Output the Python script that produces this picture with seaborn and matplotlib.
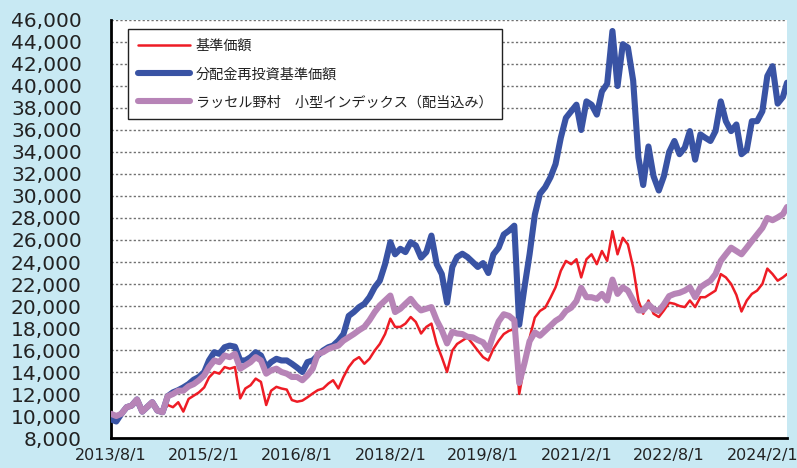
import numpy as np
import pandas as pd
import matplotlib
matplotlib.use("Agg")
import matplotlib.pyplot as plt
import seaborn as sns

# ---- data (monthly readings, 2013/8 .. 2024/6 + final point) ----
dates = list(pd.date_range("2013-08-01", periods=131, freq="MS")) + [pd.Timestamp("2024-06-25")]

nav_reinvest = [
    9700, 9500, 10200, 10800, 10950, 11500, 10400, 10800, 11250, 10500, 10350, 11800,
    12150, 12350, 12600, 12900, 13300, 13550, 14000, 15050, 15800, 15650, 16250, 16400,
    16300, 15050, 15050, 15350, 15800, 15500, 14450, 14900, 15200, 15050, 15050, 14750,
    14400, 14000, 14900, 15050, 15500, 15950, 16250, 16400, 16850, 17450, 19100, 19450,
    19900, 20200, 20800, 21700, 22300, 23800, 25800, 24700, 25200, 24900, 25800, 25500,
    24400, 24900, 26400, 23800, 22900, 20300, 23550, 24450, 24750, 24450, 24000, 23550,
    23900, 23000, 24700, 25300, 26500, 26850, 27300, 18300, 21700, 24700, 28300, 30200,
    30800, 31700, 32900, 35300, 37100, 37700, 38300, 36000, 38600, 38300, 37400, 39500,
    40200, 45000, 40000, 43800, 43500, 40500, 33500, 31000, 34500, 31800, 30500, 31800,
    34000, 35000, 33800, 34400, 35900, 33300, 35600, 35300, 35000, 35900, 38600, 36800,
    35900, 36500, 33800, 34200, 36800, 36800, 37700, 40900, 41800, 38400, 39000,
    40300,
]

index_total = [
    10200, 10000, 10200, 10800, 10950, 11500, 10400, 10800, 11250, 10500, 10350, 11800,
    12000, 12300, 12300, 12700, 12900, 13250, 13700, 14450, 15050, 14900, 15500, 15350,
    15650, 14300, 14600, 14900, 15350, 15050, 13850, 14150, 14300, 14000, 13850, 13550,
    13550, 13250, 13700, 14300, 15650, 15800, 16100, 16250, 16400, 16850, 17150, 17450,
    17800, 18100, 18700, 19450, 20050, 20500, 20950, 19450, 19750, 20200, 20650, 20050,
    19600, 19750, 19900, 18700, 17800, 16600, 17650, 17500, 17450, 17200, 17150, 16900,
    16700, 16000, 17400, 18600, 19250, 19100, 18700, 13000, 14800, 16800, 17600, 17300,
    17750, 18200, 18650, 18950, 19550, 19850, 20450, 21650, 20800, 20800, 20650, 21100,
    20500, 22400, 21100, 21700, 21400, 20500, 19600, 19600, 20150, 19700, 19550, 20150,
    20900, 21100, 21200, 21400, 21700, 20800, 21700, 22000, 22300, 22900, 24100, 24700,
    25300, 25000, 24700, 25300, 25900, 26500, 27100, 28000, 27800, 28050, 28350,
    29000,
]

nav = [
    9700, 9500, 10200, 10800, 10950, 11500, 10400, 10800, 11250, 10500, 10350, 11000,
    10800, 11250, 10400, 11550, 11850, 12150, 12600, 13500, 14000, 13850, 14450, 14300,
    14450, 11600, 12500, 12800, 13400, 13100, 11000, 12300, 12650, 12500, 12400, 11450,
    11300, 11400, 11700, 12050, 12350, 12500, 12950, 13250, 12500, 13550, 14450, 15050,
    15350, 14750, 15200, 15950, 16550, 17450, 18850, 18100, 18100, 18400, 19000, 18550,
    17500, 18100, 18400, 16550, 15350, 14000, 15950, 16550, 16850, 17150, 16550, 15950,
    15350, 15050, 16100, 16850, 17450, 17750, 17900, 12000, 14600, 17100, 18950, 19550,
    19850, 20750, 21700, 23200, 24100, 23800, 24250, 22600, 24250, 24700, 23800, 25000,
    24100, 26800, 24700, 26200, 25600, 23500, 20500, 19300, 20500, 19300, 19000, 19600,
    20300, 20200, 20000, 19900, 20500, 19900, 20800, 20800, 21100, 21400, 22900, 22600,
    22000, 21000, 19500, 20500, 21100, 21400, 22000, 23400, 22900, 22300, 22600,
    22900,
]

labels = ["基準価額", "分配金再投資基準価額", "ラッセル野村　小型インデックス（配当込み）"]
tick_dates = ["2013-08-01", "2015-02-01", "2016-08-01", "2018-02-01",
              "2019-08-01", "2021-02-01", "2022-08-01", "2024-02-01"]
tick_labels = ["2013/8/1", "2015/2/1", "2016/8/1", "2018/2/1",
               "2019/8/1", "2021/2/1", "2022/8/1", "2024/2/1"]
y_ticks = list(range(8000, 46001, 2000))

# ---- figure ----
sns.set_theme(style="white")
plt.rcParams["font.family"] = ["DejaVu Sans", "Noto Sans CJK JP"]

BG = "#C8E9F3"
fig = plt.figure(figsize=(7.97, 4.68), dpi=100, facecolor=BG)
ax = fig.add_axes([111 / 797, 1 - 438 / 468, 676 / 797, 418 / 468])
ax.set_facecolor("white")

df = pd.DataFrame({"date": dates, "nav": nav, "reinv": nav_reinvest, "idx": index_total})

sns.lineplot(data=df, x="date", y="nav", ax=ax, color="#EE1C25", linewidth=1.8,
             label=labels[0], zorder=3)
sns.lineplot(data=df, x="date", y="reinv", ax=ax, color="#3953A4", linewidth=4.4,
             label=labels[1], zorder=4)
sns.lineplot(data=df, x="date", y="idx", ax=ax, color="#B784B7", linewidth=4.4,
             label=labels[2], zorder=5)

ax.set_xlim(pd.Timestamp("2013-08-01"), pd.Timestamp("2024-06-25"))
ax.set_ylim(8000, 46000)
ax.set_xlabel("")
ax.set_ylabel("")

ax.set_yticks(y_ticks)
ax.set_yticklabels([f"{v:,}" for v in y_ticks], fontsize=14.5, color="#222222")
ax.set_xticks([pd.Timestamp(d) for d in tick_dates])
ax.set_xticklabels(tick_labels, fontsize=11.5, color="#222222")

for v in y_ticks[1:]:
    ax.axhline(v, color="#707070", linewidth=1.0, linestyle=(0, (1.6, 1.6)), zorder=1)

for s in ["top", "right"]:
    ax.spines[s].set_visible(False)
for s in ["left", "bottom"]:
    ax.spines[s].set_color("black")
    ax.spines[s].set_linewidth(2)

ax.tick_params(axis="y", direction="in", length=5, width=2, pad=21, color="black")
ax.tick_params(axis="x", direction="in", length=5, width=2, pad=7, color="black")

leg = ax.legend(loc="upper left", bbox_to_anchor=(0.025, 0.978), borderaxespad=0,
                frameon=True, fancybox=False, edgecolor="#222222", framealpha=1,
                prop={"family": "Noto Sans CJK JP", "size": 10.2},
                handlelength=3.7, handletextpad=0.4, labelspacing=1.0, borderpad=0.7)
leg.get_frame().set_linewidth(1.0)
for t in leg.get_texts():
    t.set_color("#222222")

fig.savefig("out.png", dpi=100, facecolor=BG)
